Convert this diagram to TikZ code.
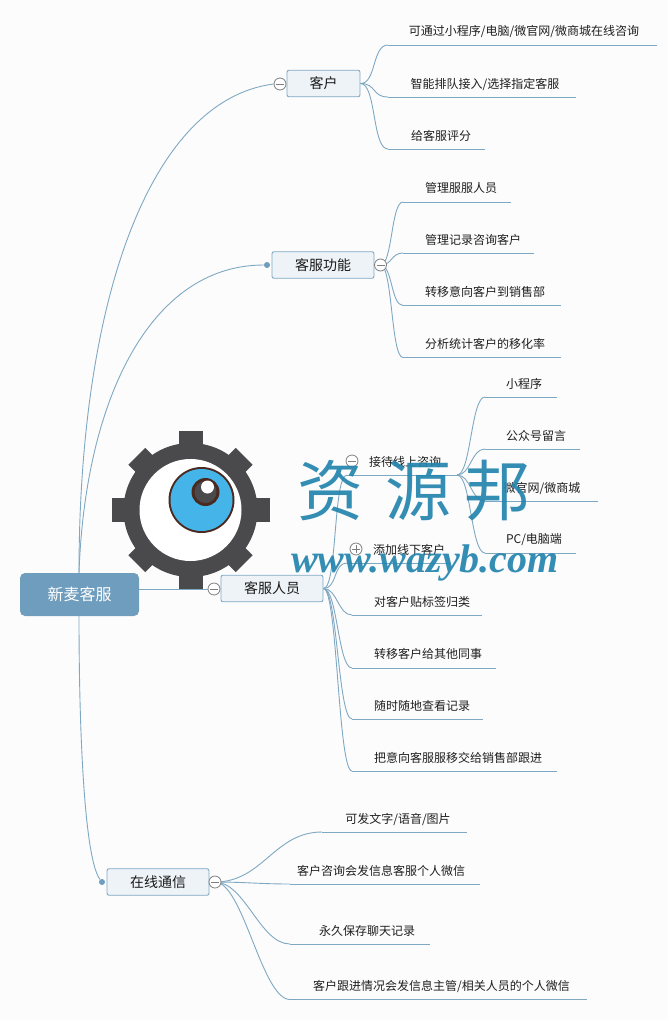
\documentclass[tikz,border=0pt]{standalone}
\usepackage{fontspec}
\setmainfont{Noto Sans CJK SC}
\newfontfamily\wmcjk[AutoFakeSlant=0.12,AutoFakeBold=2.5]{Noto Sans CJK SC}
\newfontfamily\wmlat[BoldItalicFont=Liberation Serif Bold Italic]{Liberation Serif}
\definecolor{bgc}{HTML}{FCFCFD}
\definecolor{linec}{HTML}{7FA8C2}
\definecolor{rootc}{HTML}{6F9DBD}
\definecolor{boxc}{HTML}{EEF3F7}
\definecolor{dotc}{HTML}{6F9DBD}
\definecolor{togc}{HTML}{7F7F7F}
\definecolor{gearc}{HTML}{4A4A4C}
\definecolor{wmc}{HTML}{2384AD}
\definecolor{eyerim}{HTML}{4A2A20}
\definecolor{eyeblue}{HTML}{45B4E8}
\tikzset{
  link/.style={draw=linec,line width=0.9pt},
  rootbox/.style={draw=none,fill=rootc,rounded corners=5pt,minimum width=119pt,minimum height=43pt,text=white,font=\fontsize{16}{18}\selectfont,inner sep=0pt},
  branch/.style={draw=linec,fill=boxc,rounded corners=2pt,line width=0.9pt,minimum height=26.5pt,font=\fontsize{14}{16}\selectfont,inner sep=0pt,text=black!90},
  leaflabel/.style={font=\fontsize{12}{14}\selectfont,inner sep=0pt,text=black!88,yshift=-1pt},
  tog/.style={circle,draw=togc,fill=white,line width=0.8pt,minimum size=12pt,inner sep=0pt,
    path picture={\draw[togc,line width=0.8pt] ([xshift=-4pt]path picture bounding box.center)--([xshift=4pt]path picture bounding box.center);}},
  togplus/.style={tog,path picture={\draw[togc,line width=0.8pt] ([xshift=-4pt]path picture bounding box.center)--([xshift=4pt]path picture bounding box.center) ([yshift=-4pt]path picture bounding box.center)--([yshift=4pt]path picture bounding box.center);}},
  dotnode/.style={circle,fill=dotc,minimum size=6pt,inner sep=0pt},
  tooth/.style={fill=gearc,draw=none},
  wmchar/.style={text=wmc,text opacity=0.92,inner sep=0pt,font=\wmcjk\fontsize{66}{68}\selectfont},
  wmurl/.style={text=wmc,text opacity=0.92,inner sep=0pt,font=\wmlat\bfseries\itshape\fontsize{40}{42}\selectfont}
}
\newcommand{\leafitem}[7]{%
  \node[leaflabel] (#1) at (#5,#6) {#7};
  \coordinate (#1-l) at (#2,#4);
  \coordinate (#1-r) at (#3,#4);
  \draw[link] (#1-l) -- (#1-r);
}
\newcommand{\feed}[3]{\draw[link] (#1) .. controls +(#3,0) and +(-#3,0) .. (#2-l);}
\begin{document}
\begin{tikzpicture}[x=1pt,y=-1pt]
\useasboundingbox (0,0) rectangle (668,1020);
\fill[bgc] (0,0) rectangle (668,1020);

% main boxes
\node[rootbox] (root) at (79.5,594.5) {新麦客服};
\node[branch,minimum width=73pt] (kehu) at (323.5,83.5) {客户};
\node[branch,minimum width=102pt] (gongneng) at (323,265) {客服功能};
\node[branch,minimum width=102pt] (renyuan) at (272,588.5) {客服人员};
\node[branch,minimum width=102pt] (tongxin) at (158,882) {在线通信};
\coordinate (rootTop) at (79,573);
\coordinate (rootBot) at (79,616);
\coordinate (rootRight) at (139,589);
\coordinate (gsrc) at (380.5,265);
\coordinate (tsrc) at (215,882);

% left toggles and dots
\node[tog] (tkehu) at (280,84) {};
\node[dotnode] (dgong) at (267,265) {};
\node[tog] (tren) at (214,589) {};
\node[dotnode] (dtong) at (102,882) {};

% root links
\draw[link] (rootTop) .. controls (79,300) and (150,100) .. (tkehu.west);
\draw[link] (rootTop) .. controls (85,400) and (150,265) .. (dgong);
\draw[link] (rootRight) -- (tren.west);
\draw[link] (rootBot) .. controls (79,740) and (85,860) .. (dtong);

% kehu leaves
\leafitem{a1}{388}{657}{45}{524}{31}{可通过小程序/电脑/微官网/微商城在线咨询}
\leafitem{a2}{388}{576}{97}{485}{83}{智能排队接入/选择指定客服}
\leafitem{a3}{388}{485}{149}{441}{135}{给客服评分}
\feed{kehu.east}{a1}{16}
\feed{kehu.east}{a2}{16}
\feed{kehu.east}{a3}{16}

% gongneng leaves
\leafitem{b1}{403}{511}{202}{461}{187}{管理服服人员}
\leafitem{b2}{403}{534}{253}{473}{239}{管理记录咨询客户}
\leafitem{b3}{403}{561}{305.5}{485}{291}{转移意向客户到销售部}
\leafitem{b4}{403}{561}{357.5}{485}{343}{分析统计客户的移化率}
\feed{gsrc}{b1}{12}
\feed{gsrc}{b2}{12}
\feed{gsrc}{b3}{12}
\feed{gsrc}{b4}{12}
\node[tog] (tgong) at (gsrc) {};

% renyuan children
\leafitem{c1}{347}{457}{475}{405}{461}{接待线上咨询}
\leafitem{c2}{347}{450}{563}{409}{549}{添加线下客户}
\leafitem{c3}{352}{482}{615}{422}{601}{对客户贴标签归类}
\leafitem{c4}{352}{496}{668}{428}{653}{转移客户给其他同事}
\leafitem{c5}{352}{483}{719}{422}{705}{随时随地查看记录}
\leafitem{c6}{352}{557}{771}{458}{757}{把意向客服服移交给销售部跟进}
\feed{renyuan.east}{c1}{14}
\feed{renyuan.east}{c2}{14}
\feed{renyuan.east}{c3}{14}
\feed{renyuan.east}{c4}{14}
\feed{renyuan.east}{c5}{14}
\feed{renyuan.east}{c6}{14}
\node[tog] (tc1) at (352,461) {};
\node[togplus] (tc2) at (356,549) {};

% sub-leaves
\coordinate (c1src) at (457,475);
\leafitem{d1}{485}{557}{397}{524}{383}{小程序}
\leafitem{d2}{485}{580}{449}{536}{435}{公众号留言}
\leafitem{d3}{485}{598}{501}{542}{487}{微官网/微商城}
\leafitem{d4}{485}{576}{553}{534}{539}{PC/电脑端}
\feed{c1src}{d1}{14}
\feed{c1src}{d2}{14}
\feed{c1src}{d3}{14}
\feed{c1src}{d4}{14}

% tongxin leaves
\leafitem{e1}{322}{467}{832}{398}{818}{可发文字/语音/图片}
\leafitem{e2}{290}{480}{884}{381}{870}{客户咨询会发信息客服个人微信}
\leafitem{e3}{290}{430}{944}{367}{930}{永久保存聊天记录}
\leafitem{e4}{290}{587}{999.5}{441.5}{985}{客户跟进情况会发信息主管/相关人员的个人微信}
\feed{tsrc}{e1}{48}
\feed{tsrc}{e2}{30}
\feed{tsrc}{e3}{30}
\feed{tsrc}{e4}{28}
\node[tog] (ttong) at (tsrc) {};

% watermark: gear and eye
\begin{scope}[shift={(190.5,510)}]
  \foreach \a in {0,90,180,270}{
    \fill[tooth,rotate=\a] (-12,-79) rectangle (12,-50);
  }
  \foreach \a in {45,135,225,315}{
    \fill[tooth,rotate=\a] (-12,-76) rectangle (12,-50);
  }
  \fill[gearc] (0,0) circle (67);
  \fill[white] (0,0) circle (51);
  \fill[eyerim] (11,-10) circle (33);
  \fill[eyeblue] (11,-10) circle (31);
  \fill[eyerim] (15,-18) circle (14);
  \fill[gearc] (15,-18) circle (11);
  \fill[white] (17,-23) circle (6.5);
\end{scope}

% watermark text
\node[wmchar] (wm1) at (330,491) {资};
\node[wmchar] (wm2) at (418,491) {源};
\node[wmchar] (wm3) at (497,491) {邦};
\node[wmurl] (wm4) at (425,563) {www.wazyb.com};
\end{tikzpicture}
\end{document}
